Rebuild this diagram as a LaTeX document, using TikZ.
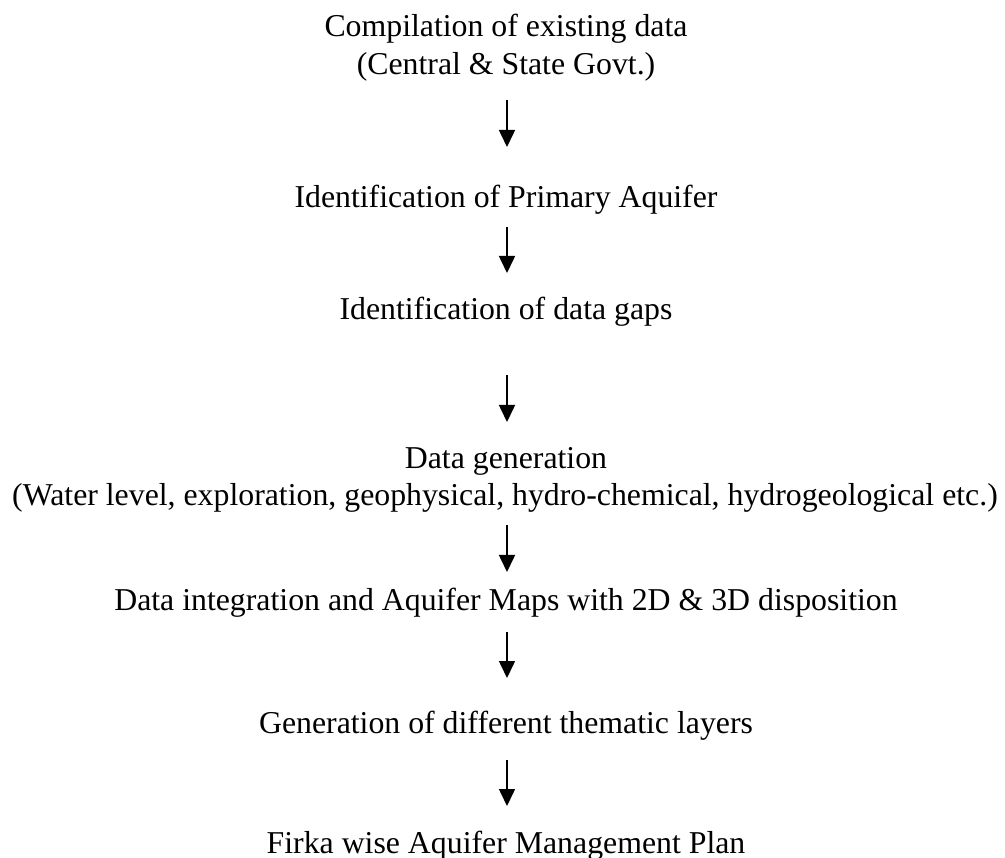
\documentclass[tikz,border=0pt]{standalone}
\usepackage{fontspec}
\setmainfont{Liberation Serif}
\usetikzlibrary{arrows.meta}
\begin{document}
\begin{tikzpicture}[
  txt/.style={anchor=base, inner sep=0pt, font=\fontsize{31.8}{38}\selectfont},
  arr/.style={line width=1.6pt, -{Triangle[width=16pt,length=17pt]}}
]
\useasboundingbox[fill=white] (0pt,0pt) rectangle (1005pt,-858pt);
\node[txt] (l1) at (506pt,-37pt) {Compilation of existing data};
\node[txt] (l2) at (506pt,-75pt) {(Central \& State Govt.)};
\node[txt] (l3) at (506pt,-208pt) {Identification of Primary Aquifer};
\node[txt] (l4) at (506pt,-320pt) {Identification of data gaps};
\node[txt] (l5) at (506pt,-469pt) {Data generation};
\node[txt] (l6) at (505pt,-506pt) {(Water level, exploration, geophysical, hydro-chemical, hydrogeological etc.)};
\node[txt] (l7) at (506pt,-610pt) {Data integration and Aquifer Maps with 2D \& 3D disposition};
\node[txt] (l8) at (506pt,-733pt) {Generation of different thematic layers};
\node[txt] (l9) at (506pt,-853pt) {Firka wise Aquifer Management Plan};
\draw[arr] ([shift={(1pt,-25pt)}]l2.base) -- ([shift={(1pt,61pt)}]l3.base);
\draw[arr] ([shift={(1pt,-19pt)}]l3.base) -- ([shift={(1pt,47pt)}]l4.base);
\draw[arr] ([shift={(1pt,-55pt)}]l4.base) -- ([shift={(1pt,47pt)}]l5.base);
\draw[arr] ([shift={(2pt,-19pt)}]l6.base) -- ([shift={(1pt,38pt)}]l7.base);
\draw[arr] ([shift={(1pt,-22pt)}]l7.base) -- ([shift={(1pt,55pt)}]l8.base);
\draw[arr] ([shift={(1pt,-27pt)}]l8.base) -- ([shift={(1pt,47pt)}]l9.base);
\end{tikzpicture}
\end{document}
